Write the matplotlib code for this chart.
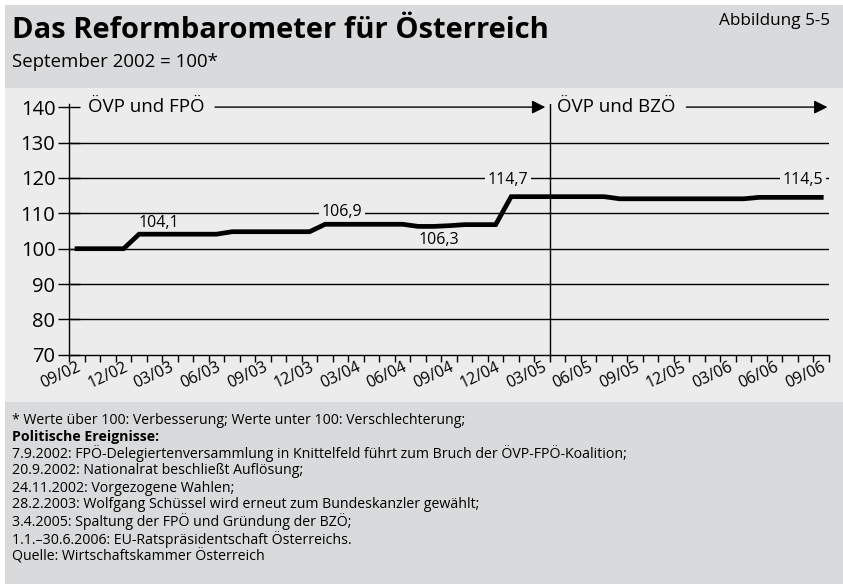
import numpy as np
import matplotlib
matplotlib.use("Agg")
import matplotlib.pyplot as plt
from matplotlib.patches import Rectangle

# -----------------------------
# DATA
# -----------------------------
tick_labels = ["09/02", "12/02", "03/03", "06/03", "09/03", "12/03", "03/04", "06/04",
               "09/04", "12/04", "03/05", "06/05", "09/05", "12/05", "03/06", "06/06", "09/06"]
# monthly index values, 09/2002 .. 09/2006
values = [100.0, 100.0, 100.0, 100.0,
          104.1, 104.1, 104.1, 104.1, 104.1, 104.1,
          104.8, 104.8, 104.8, 104.8, 104.8, 104.8,
          106.9, 106.9, 106.9, 106.9, 106.9, 106.9,
          106.3, 106.3, 106.5, 106.8, 106.8, 106.8,
          114.7, 114.7, 114.7, 114.7, 114.7, 114.7, 114.7,
          114.1, 114.1, 114.1, 114.1, 114.1, 114.1, 114.1, 114.1, 114.1,
          114.5, 114.5, 114.5, 114.5, 114.5]
yticks = [70, 80, 90, 100, 110, 120, 130, 140]
footnotes = [
    "* Werte über 100: Verbesserung; Werte unter 100: Verschlechterung;",
    "Politische Ereignisse:",
    "7.9.2002: FPÖ-Delegiertenversammlung in Knittelfeld führt zum Bruch der ÖVP-FPÖ-Koalition;",
    "20.9.2002: Nationalrat beschließt Auflösung;",
    "24.11.2002: Vorgezogene Wahlen;",
    "28.2.2003: Wolfgang Schüssel wird erneut zum Bundeskanzler gewählt;",
    "3.4.2005: Spaltung der FPÖ und Gründung der BZÖ;",
    "1.1.–30.6.2006: EU-Ratspräsidentschaft Österreichs.",
    "Quelle: Wirtschaftskammer Österreich",
]

W, H = 843, 584
plt.rcParams["font.family"] = ["Open Sans", "DejaVu Sans"]

fig = plt.figure(figsize=(W / 100, H / 100), dpi=100)
fig.patch.set_facecolor("white")


def box(x0, y0, x1, y1, color):
    # pixel coords measured from top-left
    fig.patches.append(Rectangle((x0 / W, 1 - y1 / H), (x1 - x0) / W, (y1 - y0) / H,
                                 transform=fig.transFigure, facecolor=color,
                                 edgecolor="none", zorder=-10))


box(5, 5, W, 88, "#d9dadb")
box(5, 88, W, 402, "#ececec")
box(5, 402, W, H, "#d9dadb")

# -----------------------------
# HEADER / FOOTER TEXT
# -----------------------------
fig.text(12 / W, 1 - 31 / H, "Das Reformbarometer für Österreich", fontsize=21,
         fontweight="bold", va="center", ha="left")
fig.text(830 / W, 1 - 21 / H, "Abbildung 5-5", fontsize=12.3, va="center", ha="right")
fig.text(12 / W, 1 - 62 / H, "September 2002 = 100*", fontsize=13.4, va="center", ha="left")

for i, line in enumerate(footnotes):
    fig.text(12 / W, 1 - (420 + 17 * i) / H, line, fontsize=10.2, va="center", ha="left",
             fontweight="bold" if i == 1 else "normal")

# -----------------------------
# CHART
# -----------------------------
ax_l, ax_r = 69.3, 829
y70, y140 = 354.9, 107.1
ytop = 141
px_per_unit = (y70 - y140) / 70
top_px = y140 - (ytop - 140) * px_per_unit
ax = fig.add_axes([ax_l / W, 1 - y70 / H, (ax_r - ax_l) / W, (y70 - top_px) / H])
ax.set_facecolor("none")

x = np.arange(len(values))
ax.plot(x, values, color="black", lw=3.4, solid_joinstyle="miter", zorder=5)

ax.set_xlim(-0.5, len(values) - 0.5)
ax.set_ylim(70, ytop)

for sp in ["top", "right"]:
    ax.spines[sp].set_visible(False)
for sp in ["left", "bottom"]:
    ax.spines[sp].set_linewidth(1.0)

ax.set_yticks(yticks)
ax.set_yticklabels([str(v) for v in yticks])
ax.tick_params(axis="y", direction="inout", length=16, width=1, labelsize=14.5, pad=2)

ax.set_xticks(np.arange(0, len(values), 3))
ax.set_xticklabels(tick_labels, rotation=25, ha="right", rotation_mode="anchor")
ax.tick_params(axis="x", length=0, labelsize=11.5, pad=3)
ax.set_xticks(np.arange(-0.5, len(values), 1), minor=True)
ax.tick_params(axis="x", which="minor", direction="out", length=5, width=1)

for v in yticks[1:-1]:
    ax.axhline(v, color="black", lw=1, zorder=1)

# coalition divider
ax.axvline(30.5, color="black", lw=1, zorder=1)

# coalition labels with arrows
arrow = dict(arrowstyle="-|>", color="black", lw=1, mutation_scale=20, shrinkA=0, shrinkB=0)
ax.text(0.71, 140, "ÖVP und FPÖ", fontsize=13.5, va="center", ha="left")
ax.annotate("", xy=(30.2, 140), xytext=(8.9, 140), arrowprops=arrow, annotation_clip=False)
ax.text(30.96, 140, "ÖVP und BZÖ", fontsize=13.5, va="center", ha="left")
ax.annotate("", xy=(48.4, 140), xytext=(39.3, 140), arrowprops=arrow, annotation_clip=False)

bb = dict(facecolor="#ececec", edgecolor="none", pad=2)
ax.text(5.3, 107.4, "104,1", fontsize=11.5, ha="center", va="center")
ax.text(17.06, 110.5, "106,9", fontsize=11.5, ha="center", va="center", bbox=bb, zorder=3)
ax.text(23.35, 102.5, "106,3", fontsize=11.5, ha="center", va="center")
ax.text(27.8, 119.3, "114,7", fontsize=11.5, ha="center", va="center", bbox=bb, zorder=3)
ax.text(46.8, 119.3, "114,5", fontsize=11.5, ha="center", va="center", bbox=bb, zorder=3)

fig.savefig("out.png", dpi=100)
